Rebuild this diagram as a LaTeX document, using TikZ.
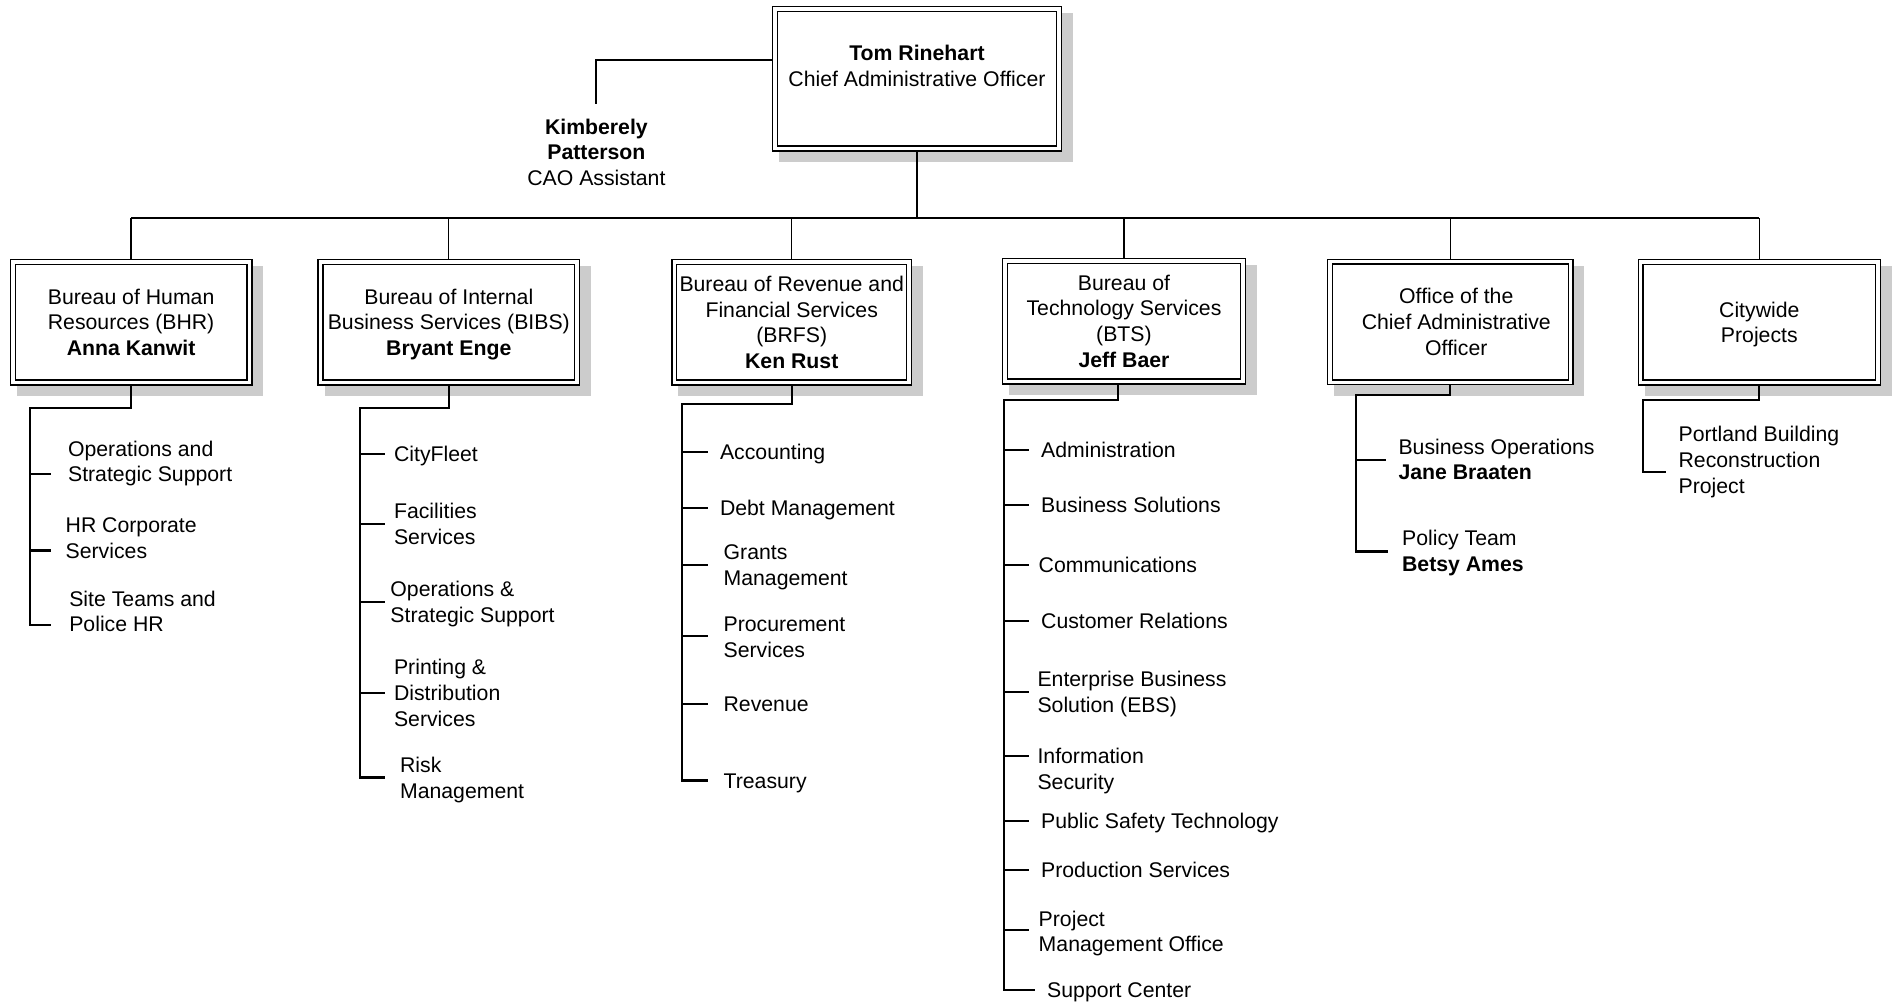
\documentclass[tikz,border=0pt]{standalone}
\usepackage{fontspec}
\setmainfont{Liberation Sans}
\usetikzlibrary{shadows}
\newcommand\tstrut{\rule{0pt}{0.97em}}
\newcommand\bstrut{\rule[-0.25em]{0pt}{0.25em}}
\begin{document}
\begin{tikzpicture}[x=0.5pt,y=-0.5pt,
  font=\fontsize{8.8}{10.65}\selectfont,
  box/.style={draw, double, double distance=1.45pt, line width=0.55pt, fill=white,
    inner sep=0pt, outer sep=1.25pt, align=center,
    general shadow={fill=black!20, draw=black!20, line width=4pt, shadow xshift=3.7pt, shadow yshift=-3.7pt}},
  item/.style={anchor=west, align=left, inner sep=0pt},
  main/.style={line width=0.85pt},
  thin/.style={line width=0.55pt}]
\useasboundingbox (0,0) rectangle (1568,832.5);

% boxes
\node[box, minimum width=117.5pt, minimum height=57.75pt] (ceo) at (759.5,65.25)
  {\tstrut\textbf{Tom Rinehart}\\Chief Administrative Officer\\\bstrut};
\node[box, minimum width=98pt, minimum height=49.9pt] (bhr) at (108.6,266.9)
  {\tstrut Bureau of Human\\Resources (BHR)\\\textbf{Anna Kanwit}\bstrut};
\node[box, minimum width=106.25pt, minimum height=49.9pt] (bibs) at (371.75,266.9)
  {\tstrut Bureau of Internal\\Business Services (BIBS)\\\textbf{Bryant Enge}\bstrut};
\node[box, minimum width=97.2pt, minimum height=49.9pt] (brfs) at (655.8,266.9)
  {\tstrut Bureau of Revenue and\\Financial Services\\(BRFS)\\\textbf{Ken Rust}\bstrut};
\node[box, minimum width=98.5pt, minimum height=50pt] (bts) at (931,266)
  {\tstrut Bureau of\\Technology Services\\(BTS)\\\textbf{Jeff Baer}\bstrut};
\node[box, minimum width=99.75pt, minimum height=50pt] (off) at (1201.25,266.75)
  {\tstrut\hspace*{5pt}Office of the\\\hspace*{5pt}Chief Administrative\\\hspace*{5pt}Officer\bstrut};
\node[box, minimum width=98.25pt, minimum height=49.9pt] (city) at (1457.25,266.9)
  {\tstrut Citywide\\Projects\bstrut};

% assistant
\node[align=center, inner sep=0pt] (kim) at (494,126)
  {\tstrut\textbf{Kimberely}\\\textbf{Patterson}\\CAO Assistant\bstrut};
\coordinate (kimy) at (0,49.7);
\draw[main] (ceo.west |- kimy) -| ([yshift=3.6pt]kim.north);

% bus
\coordinate (bus) at (0,180.7);
\draw[main] (ceo.south) -- (ceo.south |- bus);
\draw[main] (bhr.north |- bus) -- (city.north |- bus);
\foreach \n in {bhr,bibs,brfs,bts,off,city} \draw[thin] (\n.north |- bus) -- (\n.north);

% BHR
\draw[main] (bhr.south) |- (24.5,338) -- (24.5,517.5) -- (42,517.5);
\foreach \y in {392.6,456} \draw[main] (24.5,\y) -- (42,\y);
\node[item] (bhr1) at (56,382.2) {\tstrut Operations and\\Strategic Support\bstrut};
\node[item] (bhr2) at (54,445.5) {\tstrut HR Corporate\\Services\bstrut};
\node[item] (bhr3) at (57,506.5) {\tstrut Site Teams and\\Police HR\bstrut};

% BIBS
\draw[main] (bibs.south) |- (297.8,338) -- (297.8,644) -- (318.5,644);
\foreach \y in {376,434,498.6,574} \draw[main] (297.8,\y) -- (318.5,\y);
\node[item] (bibs1) at (326,376) {\tstrut CityFleet\bstrut};
\node[item] (bibs2) at (326,433.8) {\tstrut Facilities\\Services\bstrut};
\node[item] (bibs3) at (323,498.5) {\tstrut Operations \&\\Strategic Support\bstrut};
\node[item] (bibs4) at (326,574) {\tstrut Printing \&\\Distribution\\Services\bstrut};
\node[item] (bibs5) at (331,644.5) {\tstrut Risk\\Management\bstrut};

% BRFS
\draw[main] (brfs.south) |- (565,334.5) -- (565,646.5) -- (586.5,646.5);
\foreach \y in {374.5,420.4,467.8,527,583} \draw[main] (565,\y) -- (586.5,\y);
\node[item] (brfs1) at (596,374.5) {\tstrut Accounting\bstrut};
\node[item] (brfs2) at (596,420.4) {\tstrut Debt Management\bstrut};
\node[item] (brfs3) at (599,468) {\tstrut Grants\\Management\bstrut};
\node[item] (brfs4) at (599,527.5) {\tstrut Procurement\\Services\bstrut};
\node[item] (brfs5) at (599,583) {\tstrut Revenue\bstrut};
\node[item] (brfs6) at (599,646.5) {\tstrut Treasury\bstrut};

% BTS
\draw[main] (bts.south -| 926,0) |- (832,331) -- (832,820) -- (857,820);
\foreach \y in {373,418.5,468,514.5,573,626.5,680,720.5,770} \draw[main] (832,\y) -- (852,\y);
\node[item] (bts1) at (862,373) {\tstrut Administration\bstrut};
\node[item] (bts2) at (862,418.5) {\tstrut Business Solutions\bstrut};
\node[item] (bts3) at (860,468) {\tstrut Communications\bstrut};
\node[item] (bts4) at (862,514.5) {\tstrut Customer Relations\bstrut};
\node[item] (bts5) at (859,573) {\tstrut Enterprise Business\\Solution (EBS)\bstrut};
\node[item] (bts6) at (859,637) {\tstrut Information\\Security\bstrut};
\node[item] (bts7) at (862,680) {\tstrut Public Safety Technology\bstrut};
\node[item] (bts8) at (862,720.5) {\tstrut Production Services\bstrut};
\node[item] (bts9) at (860,771.5) {\tstrut Project\\Management Office\bstrut};
\node[item] (bts10) at (867,820) {\tstrut Support Center\bstrut};

% Office of the CAO
\draw[main] (off.south) |- (1123,327.5) -- (1123,456.8) -- (1150,456.8);
\draw[main] (1123,381) -- (1148,381);
\node[item] (off1) at (1158,380.5) {\tstrut Business Operations\\\textbf{Jane Braaten}\bstrut};
\node[item] (off2) at (1161,456.5) {\tstrut Policy Team\\\textbf{Betsy Ames}\bstrut};

% Citywide
\draw[main] (city.south) |- (1361,331) -- (1361,391.3) -- (1380,391.3);
\node[item] (city1) at (1390,381) {\tstrut Portland Building\\Reconstruction\\Project\bstrut};
\end{tikzpicture}
\end{document}
